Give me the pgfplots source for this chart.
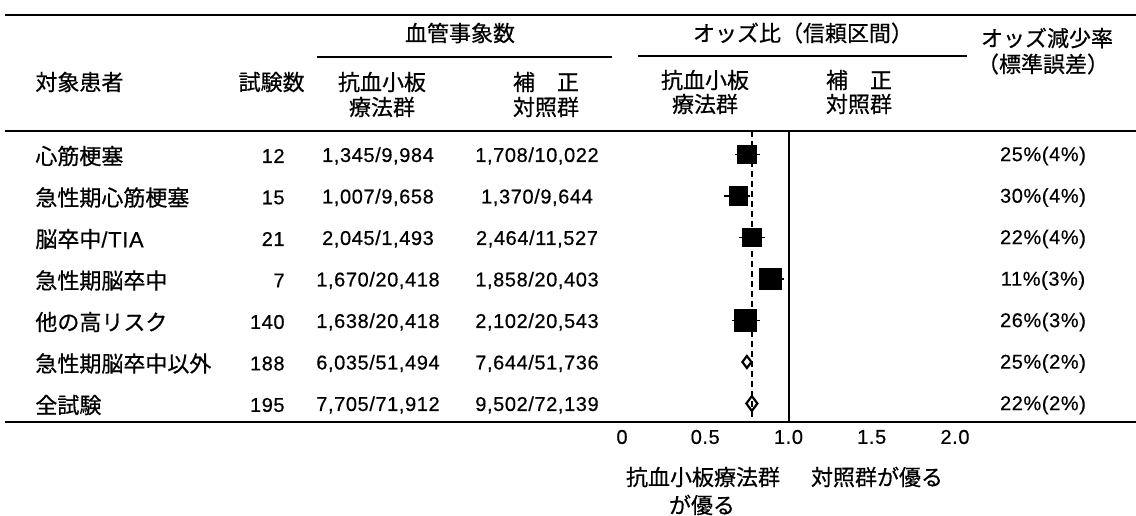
\documentclass[border=0pt]{standalone}
\usepackage{fontspec}
\setmainfont{Liberation Sans}
\newfontfamily\cjk[FakeBold=0.6]{Noto Sans CJK JP}
\newfontfamily\num[LetterSpace=3,FakeBold=0.5]{Liberation Sans}
\usepackage{pgfplots}
\pgfplotsset{compat=1.18}
\newcommand\J[1]{{\cjk\fontsize{11}{12}\selectfont #1}}
\newcommand\N[1]{{\num\fontsize{10}{12}\selectfont #1}}

\pgfplotstableread{
or    y       em    ep
0.75  -154.5  0.07  0.08
0.70  -196.0  0.09  0.07
0.78  -237.5  0.08  0.08
}\smallbox
\pgfplotstableread{
or    y       em    ep
0.89  -279.0  0.07  0.08
0.74  -320.5  0.08  0.09
}\bigbox

\begin{document}
\begin{tikzpicture}
\begin{axis}[
  scale only axis, width=568pt, height=211pt,
  xmin=-3.73574, xmax=3.08709, ymin=-422, ymax=0,
  axis line style={draw=none},
  hide y axis,
  xtick={0,0.5,1,1.5,2}, xticklabels={0,0.5,1.0,1.5,2.0},
  major tick length=0pt,
  /pgf/number format/assume math mode=true,
  xticklabel style={font=\num\fontsize{10}{12}\selectfont, anchor=center, yshift=-7.5pt, inner sep=0pt},
  clip=false,
]
\addplot[black, line width=1pt, dash pattern=on 3pt off 2pt] coordinates {(0.78,-131) (0.78,-422)};
\addplot[black, line width=1pt] coordinates {(1,-131) (1,-422)};
\addplot[only marks, mark=square*, mark size=4.6pt, black,
  error bars/.cd, x dir=both, x explicit, error mark=none,
  error bar style={line width=0.9pt}]
  table[x=or, y=y, x error minus=em, x error plus=ep] {\smallbox};
\addplot[only marks, mark=square*, mark size=5.4pt, black,
  error bars/.cd, x dir=both, x explicit, error mark=none,
  error bar style={line width=0.9pt}]
  table[x=or, y=y, x error minus=em, x error plus=ep] {\bigbox};
\addplot[only marks, mark=diamond, mark size=3pt, black, mark options={line width=1.1pt}]
  coordinates {(0.75,-362)};
\addplot[only marks, mark=diamond, mark size=3.7pt, black, mark options={line width=1.1pt}]
  coordinates {(0.78,-403.5)};
\coordinate (O) at (axis cs:-3.73574,0);
\end{axis}
\begin{scope}[shift={(O)}, x=0.5pt, y=-0.5pt, every node/.style={inner sep=0pt}]
% rules
\draw[line width=1pt] (5,15) -- (1136,15);
\draw[line width=1pt] (317,57) -- (612,57);
\draw[line width=1pt] (638,56) -- (967,56);
\draw[line width=1pt] (5,131) -- (1136,131);
\draw[line width=1pt] (5,422) -- (1136,422);
% headers
\node at (460,33) {\J{血管事象数}};
\node at (803,33) {\J{オッズ比（信頼区間）}};
\node at (1047,38) {\J{オッズ減少率}};
\node at (1043,64) {\J{（標準誤差）}};
\node[anchor=west] at (35,82) {\J{対象患者}};
\node[anchor=east] at (305,82) {\J{試験数}};
\node at (382,82) {\J{抗血小板}};
\node at (382,107) {\J{療法群}};
\node at (546,82) {\J{補　正}};
\node at (546,107) {\J{対照群}};
\node at (705,80) {\J{抗血小板}};
\node at (705,104) {\J{療法群}};
\node at (859,80) {\J{補　正}};
\node at (859,104) {\J{対照群}};
% rows
\foreach \lab/\n/\a/\b/\p [count=\i from 0] in {
  心筋梗塞/12/{1,345/9,984}/{1,708/10,022}/25\%(4\%),
  急性期心筋梗塞/15/{1,007/9,658}/{1,370/9,644}/30\%(4\%),
  {脳卒中\num/TIA}/21/{2,045/1,493}/{2,464/11,527}/22\%(4\%),
  急性期脳卒中/7/{1,670/20,418}/{1,858/20,403}/11\%(3\%),
  他の高リスク/140/{1,638/20,418}/{2,102/20,543}/26\%(3\%),
  急性期脳卒中以外/188/{6,035/51,494}/{7,644/51,736}/25\%(2\%),
  全試験/195/{7,705/71,912}/{9,502/72,139}/22\%(2\%)}{
  \pgfmathsetmacro\yy{156+41.5*\i}
  \node[anchor=west] at (35,\yy) {\J{\lab}};
  \node[anchor=east] at (285,\yy) {\N{\n}};
  \node at (378,\yy) {\N{\a}};
  \node at (537,\yy) {\N{\b}};
  \node at (1043,\yy) {\N{\p}};
}
% bottom labels
\node at (703,477) {\J{抗血小板療法群}};
\node at (702,505) {\J{が優る}};
\node at (877,477) {\J{対照群が優る}};
\pgfresetboundingbox
\path (0,0) rectangle (1136,515);
\end{scope}
\end{tikzpicture}
\end{document}
